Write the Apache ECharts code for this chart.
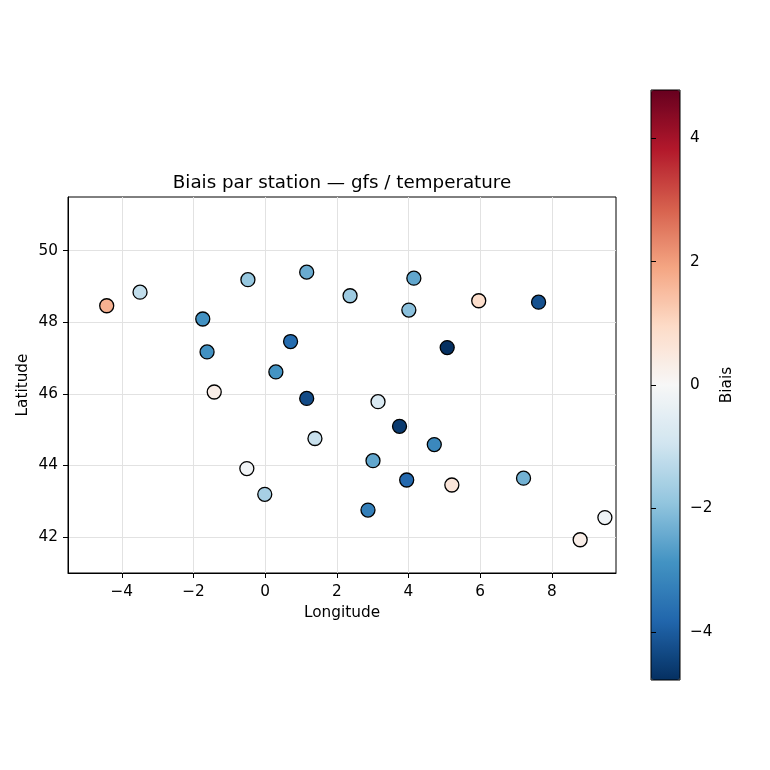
<!DOCTYPE html>
<html>
<head>
<meta charset="utf-8">
<title>Biais par station</title>
<script src="https://cdn.jsdelivr.net/npm/echarts@6/dist/echarts.min.js"></script>
<style>
  html, body { margin: 0; padding: 0; background: #fff; }
  #chart { width: 770px; height: 770px; }
</style>
</head>
<body>
<div id="chart"></div>
<script>
// stations : longitude, latitude, biais
const lons = [-4.42, -3.49, -0.48, 1.16, 2.37, 4.15, 4.01, 5.96, 7.63, -1.74, -1.62, 0.71, 5.08, 0.30, -1.42,
  1.16, 3.15, 3.75, 1.39, 4.72, 3.01, -0.51, -0.01, 3.95, 5.21, 7.21, 2.87, 9.48, 8.79]
const lats = [48.46, 48.84, 49.19, 49.40, 48.74, 49.23, 48.34, 48.60, 48.56, 48.09, 47.17, 47.46, 47.29, 46.61, 46.05,
  45.87, 45.78, 45.09, 44.75, 44.58, 44.13, 43.91, 43.19, 43.59, 43.45, 43.64, 42.75, 42.54, 41.92]
const biases = [1.7, -1.2, -1.85, -2.4, -1.75, -2.5, -2.0, 0.85, -4.2, -2.9, -2.9, -3.7, -4.78, -2.85, 0.3,
  -4.3, -0.75, -4.6, -1.1, -3.1, -2.5, -0.15, -1.6, -3.75, 0.6, -2.3, -3.3, -0.2, 0.3]

const lonTicks = [-4, -2, 0, 2, 4, 6, 8]
const latTicks = [42, 44, 46, 48, 50]
const biasTicks = [-4, -2, 0, 2, 4]
const biasLim = 4.78

// RdBu_r
const rdbu = ['#053061', '#2166ac', '#4393c3', '#92c5de', '#d1e5f0', '#f7f7f7',
  '#fddbc7', '#f4a582', '#d6604d', '#b2182b', '#67001f']

const font = 'DejaVu Sans'
const labelSize = 15.3
const minus = v => (v < 0 ? '\u2212' + Math.abs(v) : String(v))

const points = lons.map((lon, i) => [lon, lats[i], biases[i]])

const chart = echarts.init(document.getElementById('chart'))

const option = {
  backgroundColor: '#fff',
  animation: false,
  textStyle: { fontFamily: font },
  title: {
    text: 'Biais par station \u2014 gfs / temperature',
    left: 342,
    top: 174,
    textAlign: 'center',
    padding: 0,
    textStyle: { fontFamily: font, fontSize: 18.3, fontWeight: 'normal', color: '#000' }
  },
  grid: [
    { left: 68, top: 197, width: 548, height: 376, show: true, borderColor: '#000', borderWidth: 1 },
    { left: 651, top: 90, width: 29, height: 590, show: true, borderColor: '#000', borderWidth: 1, z: 10 }
  ],
  xAxis: [
    {
      gridIndex: 0,
      type: 'value',
      min: -5.5,
      max: 9.79,
      name: 'Longitude',
      nameLocation: 'middle',
      nameGap: 33,
      nameMoveOverlap: false,
      nameTextStyle: { fontFamily: font, fontSize: labelSize, color: '#000' },
      axisLine: { show: true, onZero: false, lineStyle: { color: '#000', width: 1 } },
      axisTick: { show: true, inside: false, length: 5, customValues: lonTicks, lineStyle: { color: '#000' } },
      axisLabel: { customValues: lonTicks, margin: 12, fontFamily: font, fontSize: labelSize, color: '#000', formatter: minus },
      splitLine: { show: true, lineStyle: { color: '#e2e2e2', width: 1 } }
    },
    { gridIndex: 1, type: 'value', min: 0, max: 1, show: false }
  ],
  yAxis: [
    {
      gridIndex: 0,
      type: 'value',
      min: 40.99,
      max: 51.5,
      name: 'Latitude',
      nameLocation: 'middle',
      nameRotate: 90,
      nameGap: 37,
      nameMoveOverlap: false,
      nameTextStyle: { fontFamily: font, fontSize: labelSize, color: '#000' },
      axisLine: { show: true, onZero: false, lineStyle: { color: '#000', width: 1 } },
      axisTick: { show: true, inside: false, length: 5, customValues: latTicks, lineStyle: { color: '#000' } },
      axisLabel: { customValues: latTicks, margin: 10, fontFamily: font, fontSize: labelSize, color: '#000' },
      splitLine: { show: true, lineStyle: { color: '#e2e2e2', width: 1 } }
    },
    {
      gridIndex: 1,
      type: 'value',
      position: 'right',
      min: -biasLim,
      max: biasLim,
      z: 10,
      name: 'Biais',
      nameLocation: 'middle',
      nameRotate: 90,
      nameGap: 40,
      nameMoveOverlap: false,
      nameTextStyle: { fontFamily: font, fontSize: labelSize, color: '#000' },
      axisLine: { show: false },
      axisTick: { show: true, inside: false, length: 5, customValues: biasTicks, lineStyle: { color: '#000' } },
      axisLabel: { customValues: biasTicks, margin: 10, fontFamily: font, fontSize: labelSize, color: '#000', formatter: minus },
      splitLine: { show: false }
    }
  ],
  visualMap: {
    type: 'continuous',
    seriesIndex: 0,
    dimension: 2,
    min: -biasLim,
    max: biasLim,
    orient: 'vertical',
    left: 651,
    top: 90,
    itemWidth: 29,
    itemHeight: 590,
    padding: 0,
    text: null,
    showLabel: false,
    calculable: false,
    hoverLink: false,
    inRange: { color: rdbu }
  },
  series: [
    {
      type: 'scatter',
      xAxisIndex: 0,
      yAxisIndex: 0,
      data: points,
      symbolSize: 14,
      itemStyle: { borderColor: '#000', borderWidth: 1.3, opacity: 1 }
    }
  ]
}

chart.setOption(option)
</script>
</body>
</html>
